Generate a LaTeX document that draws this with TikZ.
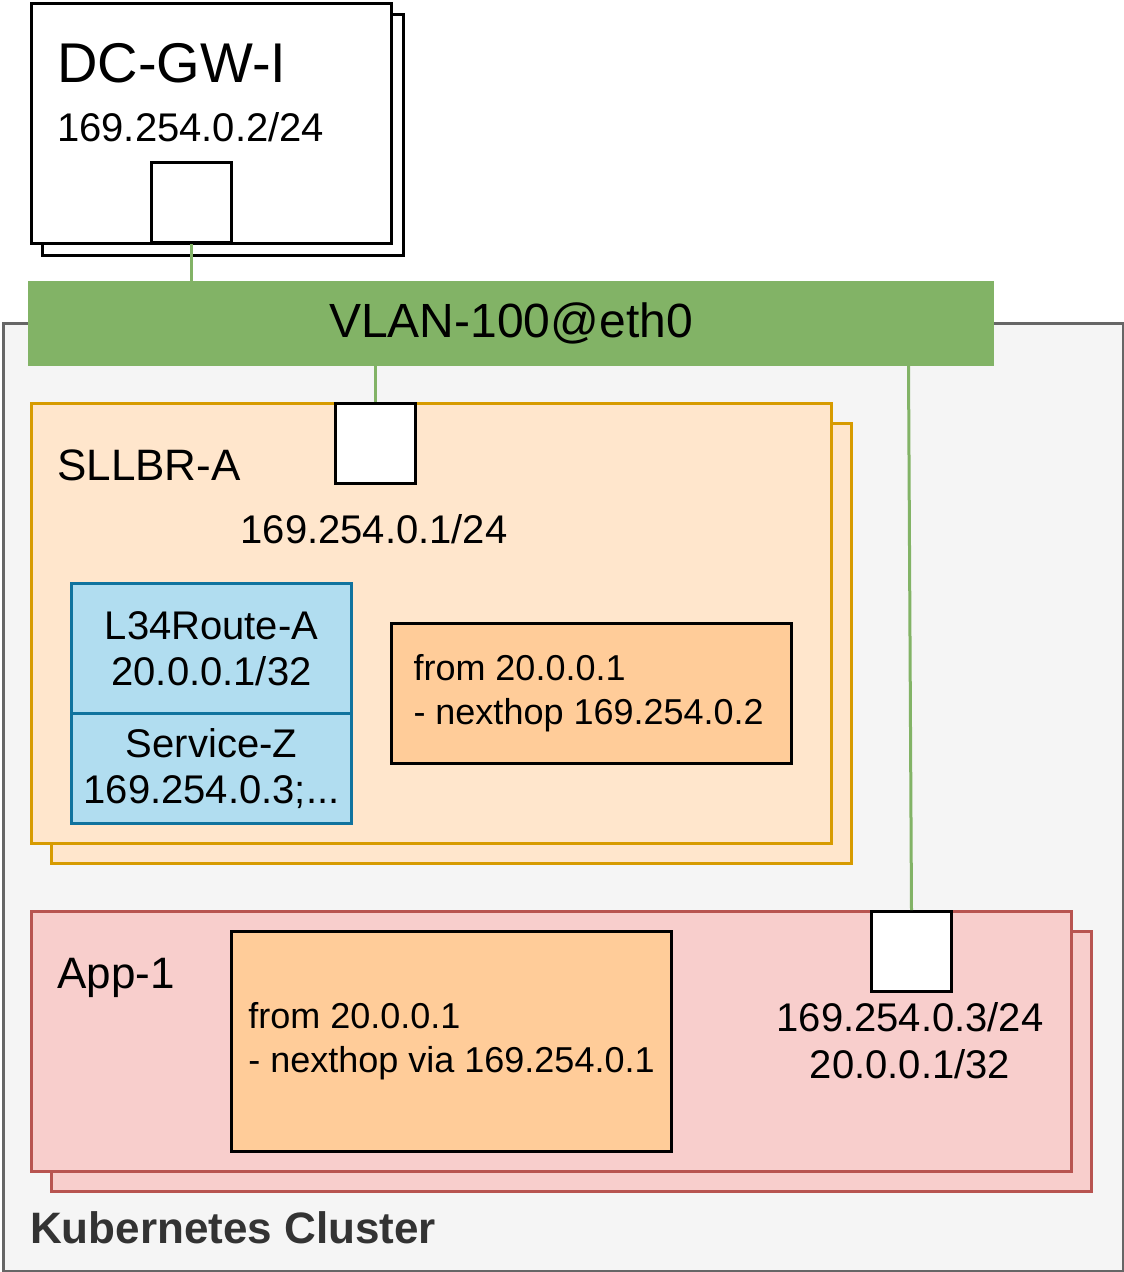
\documentclass[tikz,border=0pt]{standalone}
\usepackage{fontspec}
\setmainfont{Liberation Sans}
\usepackage{xcolor}
\usetikzlibrary{positioning,calc}
\definecolor{vlangreen}{HTML}{82B366}
\definecolor{clusterfill}{HTML}{F5F5F5}
\definecolor{clusteredge}{HTML}{666666}
\definecolor{clustertext}{HTML}{333333}
\definecolor{lbfill}{HTML}{FFE6CC}
\definecolor{lbedge}{HTML}{D79B00}
\definecolor{appfill}{HTML}{F8CECC}
\definecolor{appedge}{HTML}{B85450}
\definecolor{svcfill}{HTML}{B1DDF0}
\definecolor{svcedge}{HTML}{10739E}
\definecolor{rulefill}{HTML}{FFCC99}
\tikzset{
    panel/.style={draw=#1, line width=3pt, rectangle, inner sep=0pt,
                  anchor=north west},
    portbox/.style={draw, line width=3pt, fill=white, minimum size=80pt,
                    inner sep=0pt, anchor=north west},
    rulebox/.style={panel=black, fill=rulefill, align=flush left,
                    font=\fontsize{36}{44}\selectfont},
    svcbox/.style={panel=svcedge, fill=svcfill, minimum width=280pt,
                   align=center, font=\fontsize{40}{46}\selectfont},
}

\begin{document}
\begin{tikzpicture}[
    x=1pt, y=-1pt,
    lnk/.style={draw=vlangreen, line width=3pt},
    lbl/.style={anchor=base west, inner sep=0pt, font=\fontsize{44}{52}\selectfont},
    addr/.style={anchor=base, inner sep=0pt, align=center,
                 font=\fontsize{40}{47}\selectfont},
]
    \useasboundingbox (0,0) rectangle (1124,1272);

    % cluster
    \node[panel=clusteredge, fill=clusterfill, minimum width=1120pt,
          minimum height=948pt] (cluster) at (2,322) {};
    \node[lbl, font=\fontsize{44}{52}\selectfont\bfseries, text=clustertext]
        (clusterlbl) at (30,1243) {Kubernetes Cluster};

    % gateway
    \node[panel=black, fill=white, minimum width=361pt, minimum height=241pt]
        (gwback) at (41,13) {};
    \node[panel=black, fill=white, minimum width=360pt, minimum height=240pt]
        (gw) at (30,2) {};
    \node[lbl, font=\fontsize{56}{64}\selectfont] (gwname) at (57,82) {DC-GW-I};
    \node[lbl, font=\fontsize{40}{47}\selectfont] (gwaddr) at (57,141) {169.254.0.2/24};
    \node[portbox] (gwport) at (150,161) {};

    % vlan
    \node[panel=vlangreen, fill=vlangreen, minimum width=963pt, minimum height=82pt,
          font=\fontsize{48}{56}\selectfont] (vlan) at (28,281) {VLAN-100@eth0};

    % load balancer
    \node[panel=lbedge, fill=lbfill, minimum width=800pt, minimum height=440pt]
        (lbback) at (50,422) {};
    \node[panel=lbedge, fill=lbfill, minimum width=800pt, minimum height=440pt]
        (lb) at (30,402) {};
    \node[lbl] (lbname) at (57,480) {SLLBR-A};
    \node[portbox] (lbport) at (334,402) {};
    \node[addr] (lbaddr) at (374,543) {169.254.0.1/24};
    \node[svcbox, minimum height=130pt] (route) at (70,582) {L34Route-A\\20.0.0.1/32};
    \node[svcbox, minimum height=110pt] (svc) at (70,712) {Service-Z\\169.254.0.3;...};
    \node[rulebox, inner xsep=22pt, text width=356pt, minimum height=140pt]
        (lbrule) at (390,622) {from 20.0.0.1\\- nexthop 169.254.0.2};

    % application
    \node[panel=appedge, fill=appfill, minimum width=1040pt, minimum height=260pt]
        (appback) at (50,930) {};
    \node[panel=appedge, fill=appfill, minimum width=1040pt, minimum height=260pt]
        (app) at (30,910) {};
    \node[lbl] (appname) at (57,988) {App-1};
    \node[rulebox, minimum width=440pt, minimum height=220pt] (apprule) at (230,930)
        {from 20.0.0.1\\- nexthop via 169.254.0.1};
    \node[portbox] (appport) at (870,910) {};
    \node[addr] (appaddr) at (910,1078) {169.254.0.3/24\\20.0.0.1/32};

    % links
    \draw[lnk] (gwport.south) -- (gwport.south |- vlan.north);
    \draw[lnk] (lbport.north) -- (lbport.north |- vlan.south);
    \draw[lnk] (appport.north) -- ([xshift=-3pt]appport.north |- vlan.south);
\end{tikzpicture}
\end{document}
